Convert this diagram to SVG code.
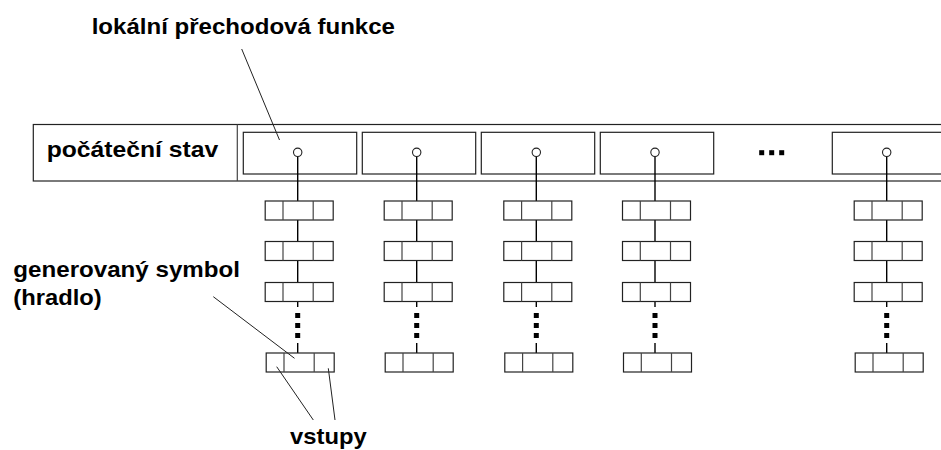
<svg xmlns="http://www.w3.org/2000/svg" width="941" height="450" viewBox="0 0 941 450">
  <style>
    .frame { fill: #fff; stroke: #222; stroke-width: 1.2; }
    .cell { fill: #fff; stroke: #222; stroke-width: 1.2; }
    .div { stroke: #444; stroke-width: 1.2; }
    .wire { stroke: #000; stroke-width: 1.4; fill: none; }
    .lead { stroke: #222; stroke-width: 1; fill: none; }
    .port { fill: #fff; stroke: #222; stroke-width: 1.1; }
    .dot { fill: #000; }
    .lbl { font-family: "Liberation Sans", Arial, sans-serif; font-weight: bold; font-size: 22px; fill: #000; }
  </style>
  <defs>
    <!-- gate with three input cells -->
    <g id="gate">
      <rect class="cell" x="-32.5" y="0" width="68" height="19"/>
      <line class="div" x1="-14.7" y1="0" x2="-14.7" y2="19"/>
      <line class="div" x1="15.5" y1="0" x2="15.5" y2="19"/>
    </g>
    <!-- one chain: wires, gates, vertical ellipsis -->
    <g id="chain">
      <line class="wire" x1="0" y1="156.5" x2="0" y2="201"/>
      <line class="wire" x1="0" y1="220" x2="0" y2="241.5"/>
      <line class="wire" x1="0" y1="260.5" x2="0" y2="282.5"/>
      <line class="wire" x1="0" y1="301.5" x2="0" y2="307"/>
      <line class="wire" x1="0" y1="343" x2="0" y2="353"/>
      <use href="#gate" y="201"/>
      <use href="#gate" y="241.5"/>
      <use href="#gate" y="282.5"/>
      <use href="#gate" x="1" y="353"/>
      <rect class="dot" x="-2.5" y="313" width="5" height="5"/>
      <rect class="dot" x="-2.5" y="323" width="5" height="5"/>
      <rect class="dot" x="-2.5" y="333" width="5" height="5"/>
      <circle class="port" cx="0" cy="152.3" r="4.2"/>
    </g>
  </defs>

  <!-- state band -->
  <g id="band">
    <rect class="frame" x="33.3" y="124.5" width="920" height="56.5"/>
    <line class="div" x1="237.3" y1="124.5" x2="237.3" y2="181"/>
    <text class="lbl" x="46.7" y="157" textLength="171.6" lengthAdjust="spacingAndGlyphs">počáteční stav</text>
  </g>

  <!-- local transition cells -->
  <g id="cell1"><rect class="frame" x="243.3" y="132.3" width="113.4" height="41.7"/></g>
  <g id="cell2"><rect class="frame" x="362.3" y="132.3" width="113.4" height="41.7"/></g>
  <g id="cell3"><rect class="frame" x="481.3" y="132.3" width="113.4" height="41.7"/></g>
  <g id="cell4"><rect class="frame" x="600.3" y="132.3" width="113.4" height="41.7"/></g>
  <g id="cell5"><rect class="frame" x="832.3" y="132.3" width="130" height="41.7"/></g>

  <!-- horizontal ellipsis -->
  <g id="hdots">
    <rect class="dot" x="759.2" y="150.2" width="5" height="5"/>
    <rect class="dot" x="769.2" y="150.2" width="5" height="5"/>
    <rect class="dot" x="779.2" y="150.2" width="5" height="5"/>
  </g>

  <!-- gate chains under each cell -->
  <g id="connectors">
    <use href="#chain" x="297.7"/>
    <use href="#chain" x="416.7"/>
    <use href="#chain" x="536.3"/>
    <use href="#chain" x="655"/>
    <use href="#chain" x="886.7"/>
    <!-- leader lines -->
    <line class="lead" x1="241.7" y1="49" x2="279.5" y2="140"/>
    <line class="lead" x1="213.3" y1="296.7" x2="294.5" y2="358.3"/>
    <line class="lead" x1="276.7" y1="366.7" x2="313.3" y2="420"/>
    <line class="lead" x1="328.3" y1="368.3" x2="335" y2="420"/>
  </g>

  <!-- labels -->
  <g id="labels">
    <text class="lbl" x="91.7" y="34" textLength="303.3" lengthAdjust="spacingAndGlyphs">lokální přechodová funkce</text>
    <text class="lbl" x="13.3" y="277" textLength="226.7" lengthAdjust="spacingAndGlyphs">generovaný symbol</text>
    <text class="lbl" x="13.3" y="305" textLength="88.4" lengthAdjust="spacingAndGlyphs">(hradlo)</text>
    <text class="lbl" x="290" y="443.5" textLength="76.7" lengthAdjust="spacingAndGlyphs">vstupy</text>
  </g>
</svg>
